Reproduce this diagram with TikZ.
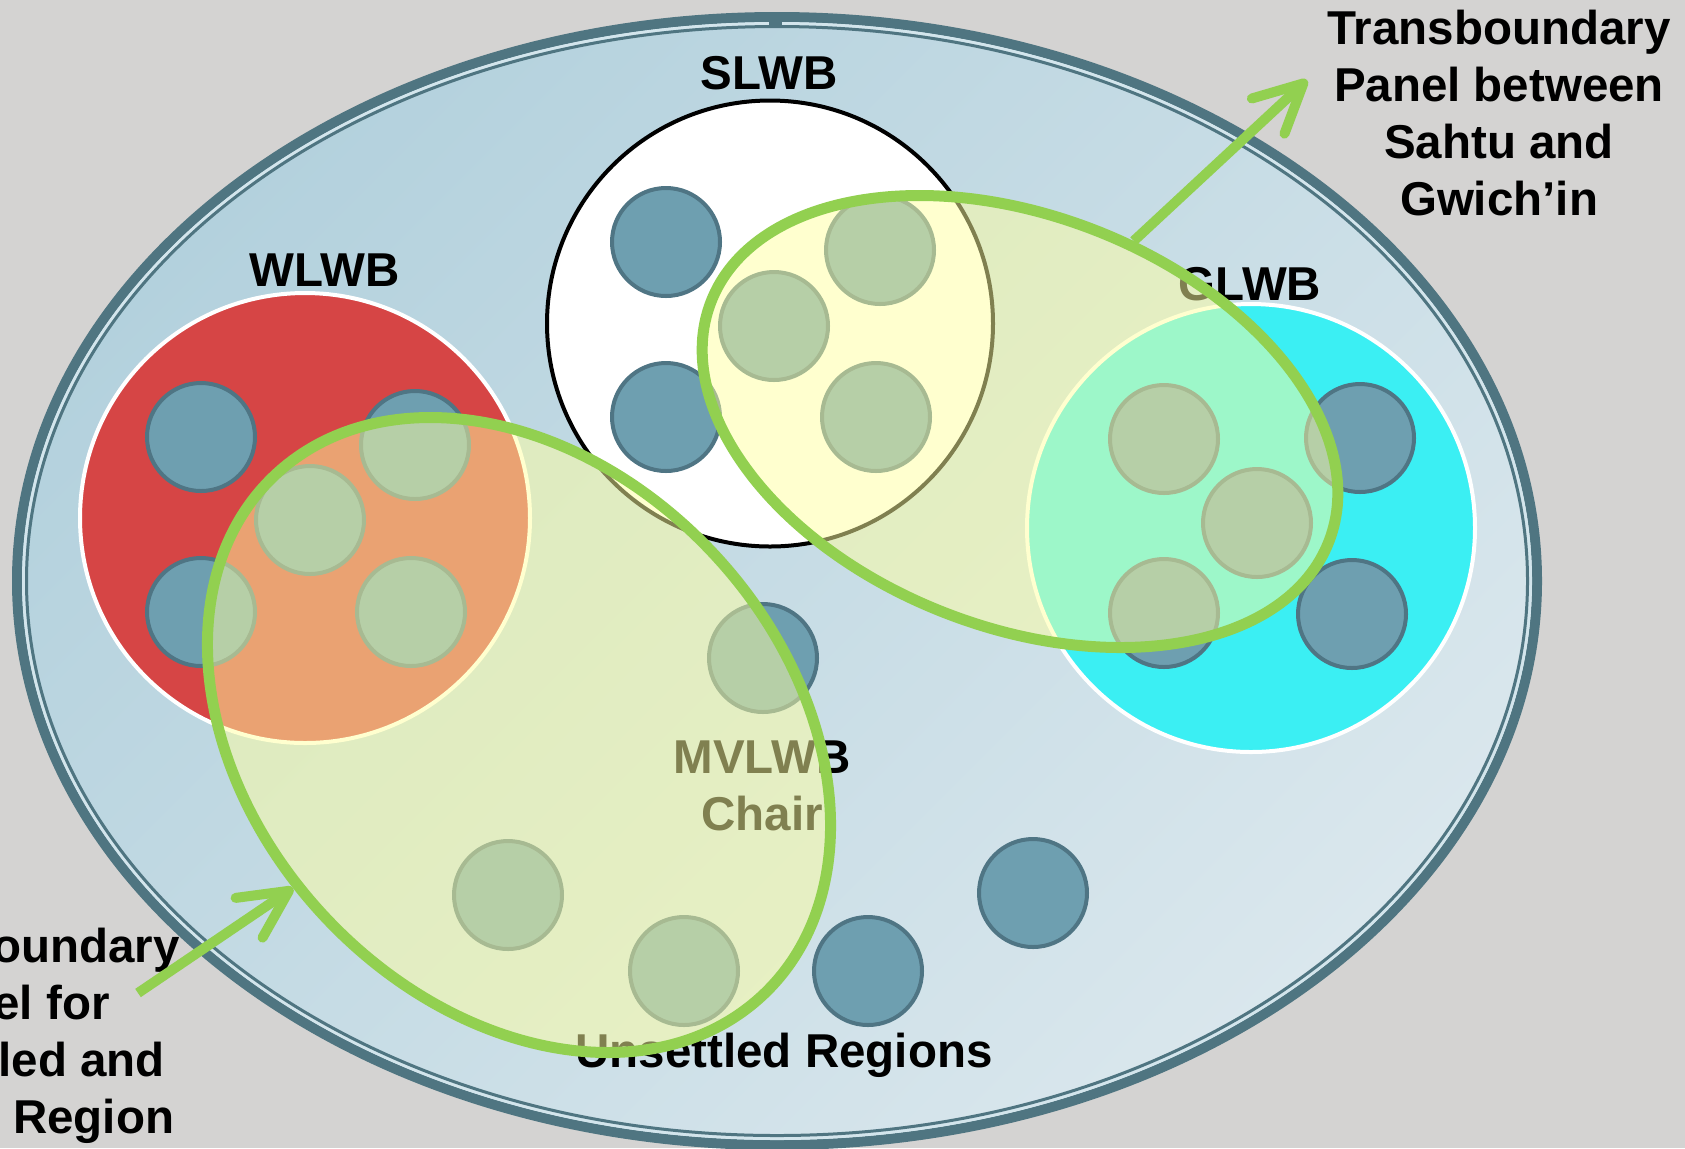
\documentclass[tikz,border=0pt]{standalone}
\usepackage{fontspec}
\setmainfont{Liberation Sans}
\usetikzlibrary{shapes.geometric,arrows.meta}
\definecolor{bg}{HTML}{D4D3D2}
\definecolor{rim}{HTML}{4F7581}
\definecolor{rimlight}{HTML}{D3E5EC}
\definecolor{skyA}{HTML}{B3D1DD}
\definecolor{skyB}{HTML}{DAE7ED}
\definecolor{dotfill}{HTML}{6E9FB0}
\definecolor{dotline}{HTML}{4F7584}
\definecolor{wred}{HTML}{D64545}
\definecolor{gcyan}{HTML}{3BEFF3}
\definecolor{ovfill}{HTML}{FFFFA0}
\definecolor{ovline}{HTML}{92D050}
\begin{document}
\begin{tikzpicture}[x=0.5pt,y=-0.5pt,
  lbl/.style={font=\bfseries\fontsize{23.75}{28.5}\selectfont, inner sep=0pt},
  smallc/.style={circle, draw=dotline, fill=dotfill, line width=2pt, minimum size=54pt, inner sep=0pt},
  board/.style={circle, line width=2pt, minimum size=#1, inner sep=0pt},
  panel/.style={ellipse, draw=ovline, line width=5.5pt, fill=ovfill, fill opacity=0.5, inner sep=0pt},
  pointer/.style={draw=ovline, line width=5pt, -{Straight Barb[length=24pt,width=24pt,round]}}
]
\useasboundingbox (0,0) rectangle (1685,1148);
\clip (0,0) rectangle (1685,1148);
\fill[bg] (0,0) rectangle (1685,1148);

% territory
\node[ellipse, draw=rim, line width=5pt, top color=skyA, bottom color=skyB, shading angle=45,
      minimum width=760pt, minimum height=564pt, inner sep=0pt] (world) at (777,581) {};
\draw[rimlight, line width=1.5pt] (777,581) ellipse [x radius=753.5, y radius=557.5];
\draw[rim, line width=1.5pt] (777,581) ellipse [x radius=750.5, y radius=554.5];
\fill[rim] (769,20) rectangle (782,27);

% boards
\node[board=223pt, draw=black, fill=white] (slwb) at (770,323.5) {};
\node[board=225pt, draw=white, fill=wred] (wlwb) at (305,518) {};
\node[board=224pt, draw=white, fill=gcyan] (glwb) at (1251,528) {};

% members
\node[smallc] (w1) at (201,437) {};
\node[smallc] (w2) at (415,445) {};
\node[smallc] (w3) at (310,520) {};
\node[smallc] (w4) at (201,612) {};
\node[smallc] (w5) at (411,612) {};
\node[smallc] (s1) at (666,242) {};
\node[smallc] (s2) at (666,417) {};
\node[smallc] (s3) at (880,250) {};
\node[smallc] (s4) at (774,326) {};
\node[smallc] (s5) at (876,417) {};
\node[smallc] (g1) at (1164,439) {};
\node[smallc] (g2) at (1360,438) {};
\node[smallc] (g3) at (1257,523) {};
\node[smallc] (g4) at (1164,613) {};
\node[smallc] (g5) at (1352,614) {};
\node[smallc] (m1) at (763,658) {};
\node[smallc] (m2) at (508,895) {};
\node[smallc] (m3) at (684,971) {};
\node[smallc] (m4) at (868,971) {};
\node[smallc] (m5) at (1033,893) {};

% labels (multi-line labels: base = last line)
\node[lbl, anchor=base] (tslwb) at (769,89) {SLWB};
\node[lbl, anchor=base] (twlwb) at (324.5,286) {WLWB};
\node[lbl, anchor=base] (tglwb) at (1250,300) {GLWB};
\node[lbl, anchor=base, align=center] (tmv) at (762,830) {MVLWB\\Chair};
\node[lbl, anchor=base] (tun) at (784,1067) {Unsettled Regions};
\node[lbl, anchor=base, align=center] (tright) at (1499,215) {Transboundary\\Panel between\\Sahtu and\\Gwich’in};
\node[lbl, anchor=base, align=center] (tleft) at (8,1133) {Transboundary\\Panel for\\Unsettled and\\Settled Region};

% transboundary panels
\node[panel, minimum width=356.5pt, minimum height=266pt, rotate=-46.9] (ovL) at (519,735) {};
\node[panel, minimum width=331.4pt, minimum height=205.5pt, rotate=-21.2] (ovR) at (1020,421.5) {};

% pointers
\coordinate (ltail) at (138,993);
\coordinate (rtip) at (1307,80);
\draw[pointer] (ltail) -- (ovL.261.8);
\draw[pointer] (ovR.79.4) -- (rtip);
\end{tikzpicture}
\end{document}
